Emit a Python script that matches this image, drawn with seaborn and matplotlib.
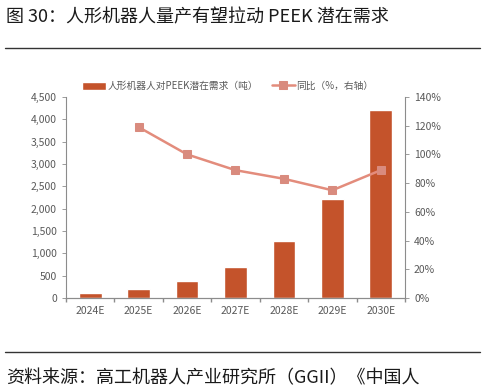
import pandas as pd
import matplotlib
matplotlib.use("Agg")
import matplotlib.pyplot as plt
import seaborn as sns

# --- datos ---
years = ['2024E', '2025E', '2026E', '2027E', '2028E', '2029E', '2030E']
demand = [110, 200, 380, 700, 1280, 2220, 4200]
yoy = [None, 119, 100, 89, 83, 75, 89]

df = pd.DataFrame({'year': years, 'demand': demand, 'yoy': yoy})

sns.set_theme(style="white")
plt.rcParams['font.family'] = ['Noto Sans CJK SC', 'DejaVu Sans']

bar_color = '#C4532B'
line_color = '#E38C7C'
grey = '#595959'

fig = plt.figure(figsize=(4.85, 3.91), dpi=100)
ax = fig.add_axes([0.136, 0.238, 0.699, 0.514])

sns.barplot(data=df, x='year', y='demand', color=bar_color, width=0.47,
            saturation=1, ax=ax, label='人形机器人对PEEK潜在需求（吨）')
ax.set_ylim(0, 4500)
ax.set_yticks(range(0, 4501, 500))
ax.set_yticklabels([f'{v:,}' for v in range(0, 4501, 500)])
ax.set_xlabel('')
ax.set_ylabel('')
ax.set_xlim(-0.5, 6.5)

ax2 = ax.twinx()
sns.lineplot(x=list(range(len(years))), y=[v if v is not None else float('nan') for v in yoy],
             ax=ax2, color=line_color, linewidth=1.8, marker='s', markersize=6,
             markeredgecolor='#D98B7E', markerfacecolor='#D98B7E',
             label='同比（%，右轴）')
ax2.set_ylim(0, 140)
ax2.set_yticks(range(0, 141, 20))
ax2.set_yticklabels([f'{v}%' for v in range(0, 141, 20)])
ax2.set_ylabel('')

for a in (ax, ax2):
    a.spines['top'].set_visible(False)
    for s in ('left', 'right', 'bottom'):
        a.spines[s].set_color('#8C8C8C')
        a.spines[s].set_linewidth(0.8)
    a.tick_params(labelsize=7.5, colors=grey, length=3, width=0.6)
ax.spines['right'].set_visible(False)
ax2.spines['left'].set_visible(False)
ax.tick_params(axis='x', length=0, pad=6)
ax.tick_params(axis='y', direction='out', color='#8C8C8C')
ax2.tick_params(axis='y', direction='out', color='#8C8C8C')
# marcas del eje x entre categorías
ax.set_xticks([i + 0.5 for i in range(-1, 7)], minor=True)
ax.tick_params(axis='x', which='minor', length=3, color='#8C8C8C', bottom=True, direction='out')

# leyenda
h1, l1 = ax.get_legend_handles_labels()
h2, l2 = ax2.get_legend_handles_labels()
if ax2.get_legend():
    ax2.get_legend().remove()
if ax.get_legend():
    ax.get_legend().remove()
fig.legend(h1 + h2, l1 + l2, loc='center', bbox_to_anchor=(0.47, 0.78), ncol=2,
           frameon=False, fontsize=7, handlelength=2.4, handleheight=0.9,
           columnspacing=1.4, labelcolor=grey, handletextpad=0.15)

# título y fuente
fig.text(0.012, 0.955, '图 30：人形机器人量产有望拉动 PEEK 潜在需求', fontsize=13,
         color='#1a1a1a', va='center', ha='left')
fig.add_artist(plt.Line2D([0.01, 0.99], [0.877, 0.877], color='#333333', linewidth=1))
fig.add_artist(plt.Line2D([0.01, 0.99], [0.1, 0.1], color='#333333', linewidth=1))
fig.text(0.012, 0.032, '资料来源：高工机器人产业研究所（GGII）《中国人', fontsize=13,
         color='#1a1a1a', va='center', ha='left')

fig.savefig('out.png', dpi=100)
